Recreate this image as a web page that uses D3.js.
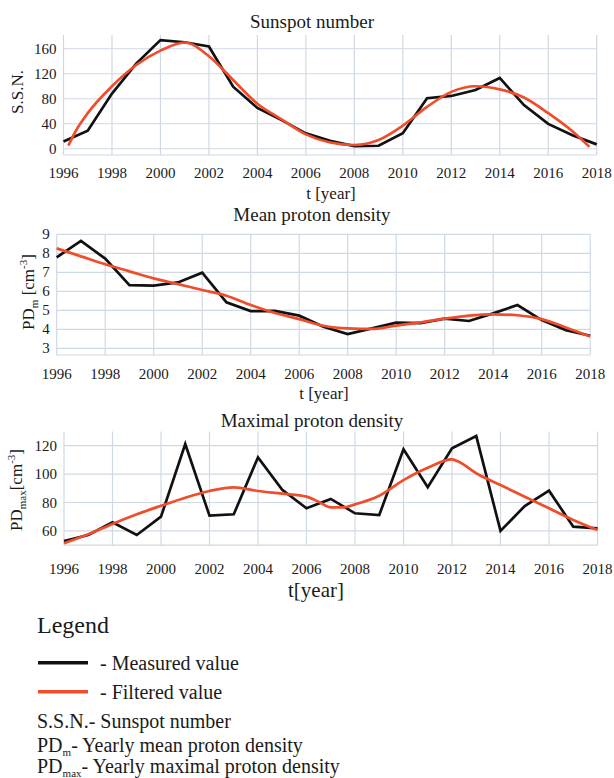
<!DOCTYPE html>
<html>
<head>
<meta charset="utf-8">
<script src="https://cdn.jsdelivr.net/npm/d3@7"></script>
<style>
  html, body { margin: 0; padding: 0; background: #fff; }
  svg { display: block; }
  svg text { font-family: "Liberation Serif", "DejaVu Serif", "Times New Roman", serif; fill: #1a1a1a; }
</style>
</head>
<body>
<svg id="chart" width="614" height="778" font-family="Liberation Serif, DejaVu Serif, serif"></svg>
<script>
// ---------------- data ----------------
const years = [1996, 1997, 1998, 1999, 2000, 2001, 2002, 2003, 2004, 2005, 2006, 2007,
               2008, 2009, 2010, 2011, 2012, 2013, 2014, 2015, 2016, 2017, 2018];
const xTicks = [1996, 1998, 2000, 2002, 2004, 2006, 2008, 2010, 2012, 2014, 2016, 2018];

// Sunspot number
const ssnMeasured = [11.6, 28.9, 88.3, 136.3, 173.9, 170.4, 163.6, 99.3, 65.3, 45.8, 24.7, 12.6,
                     4.2, 4.8, 24.9, 80.8, 84.5, 94.0, 113.3, 69.8, 39.8, 21.7, 7.0];
const ssnFilteredYears = [1996.2, 1996.5, 1997, 1998, 1999, 2000, 2001, 2002, 2003, 2004, 2005, 2006,
                          2007, 2008, 2009, 2010, 2011, 2012, 2013, 2014, 2015, 2016, 2017, 2017.7];
const ssnFiltered = [5, 28, 57, 100, 134, 157, 170, 148, 110, 72, 47, 23,
                     10, 6, 14, 37, 67, 91, 100, 95, 82, 57, 28, 3];
const ssnTicks = [0, 40, 80, 120, 160];

// Mean proton density
const pdmMeasured = [7.79, 8.65, 7.72, 6.33, 6.30, 6.47, 6.98, 5.42, 4.96, 4.97, 4.72, 4.14,
                     3.75, 4.05, 4.35, 4.33, 4.56, 4.44, 4.84, 5.28, 4.49, 3.96, 3.66];
const pdmFiltered = [8.26, 7.84, 7.42, 7.05, 6.68, 6.38, 6.07, 5.77, 5.28, 4.86, 4.54, 4.19,
                     4.05, 4.02, 4.20, 4.37, 4.56, 4.72, 4.79, 4.74, 4.54, 4.10, 3.62];
const pdmTicks = [3, 4, 5, 6, 7, 8, 9];

// Maximal proton density
const pdmaxMeasured = [52.9, 57.1, 66.0, 57.1, 70.0, 121.2, 70.7, 71.7, 111.8, 89.0, 75.9, 82.5,
                       72.4, 71.2, 117.5, 90.7, 118.2, 126.8, 60.0, 77.5, 88.3, 63.0, 61.8];
const pdmaxFilteredYears = [1996, 1997, 1998, 1999, 2000, 2001, 2002, 2003, 2004, 2005, 2006, 2006.5,
                            2007, 2007.5, 2008, 2009, 2010, 2011, 2012, 2012.3, 2013, 2014, 2015, 2016, 2017, 2018];
const pdmaxFiltered = [51.3, 57.6, 64.9, 71.7, 77.7, 83.4, 88.1, 90.7, 88.1, 86.2, 84.1, 80.5,
                       76.6, 76.5, 78.7, 84.8, 95.8, 104.5, 110.4, 108.5, 100.6, 92.3, 84.1, 75.9, 67.7, 60.6];
const pdmaxTicks = [60, 80, 100, 120];

// ---------------- drawing ----------------
const svg = d3.select("#chart");
const GRID = "#cfd9e4";
const BLACK = "#111111";
const RED = "#ef4d2c";

function panel(cfg) {
  const x = d3.scaleLinear().domain([1996, 2018]).range([cfg.x0, cfg.x1]);
  const y = d3.scaleLinear().domain(cfg.yDomain).range([cfg.yBottom, cfg.yTop]);
  const g = svg.append("g");

  // vertical grid
  g.append("g").selectAll("line").data(xTicks).join("line")
    .attr("x1", d => x(d)).attr("x2", d => x(d))
    .attr("y1", cfg.yTop).attr("y2", cfg.yBottom)
    .attr("stroke", GRID).attr("stroke-width", 1.2);
  // horizontal grid
  g.append("g").selectAll("line").data(cfg.yTicks).join("line")
    .attr("x1", cfg.x0).attr("x2", cfg.x1)
    .attr("y1", d => y(d)).attr("y2", d => y(d))
    .attr("stroke", GRID).attr("stroke-width", 1.2);
  g.append("line").attr("x1", cfg.x0).attr("x2", cfg.x1)
    .attr("y1", cfg.yBottom).attr("y2", cfg.yBottom)
    .attr("stroke", GRID).attr("stroke-width", 1.2);

  // x tick labels
  g.append("g").selectAll("text").data(xTicks).join("text")
    .attr("x", d => x(d)).attr("y", cfg.xLabelY)
    .attr("text-anchor", "middle").attr("font-size", 15)
    .text(d => d);
  // y tick labels
  g.append("g").selectAll("text").data(cfg.yTicks).join("text")
    .attr("x", cfg.x0 - 7).attr("y", d => y(d) + 5)
    .attr("text-anchor", "end").attr("font-size", 15)
    .text(d => d);

  // title
  g.append("text").attr("x", 312).attr("y", cfg.titleY)
    .attr("text-anchor", "middle").attr("font-size", 19).text(cfg.title);

  // x title
  g.append("text").attr("x", cfg.xTitleX).attr("y", cfg.xTitleY)
    .attr("text-anchor", "middle").attr("font-size", cfg.xTitleSize).text(cfg.xTitle);

  // y title
  const yt = g.append("text")
    .attr("transform", `translate(${cfg.yTitleX},${cfg.yTitleY}) rotate(-90)`)
    .attr("text-anchor", "middle").attr("font-size", 17);
  cfg.yTitleParts.forEach(p => {
    const t = yt.append("tspan").text(p.t);
    if (p.sub) t.attr("font-size", 11).attr("dy", 4);
    if (p.sup) t.attr("font-size", 11).attr("dy", -7);
    if (p.back) t.attr("dy", p.back);
  });

  // lines
  const line = d3.line().x(d => x(d[0])).y(d => y(d[1]));
  g.append("path")
    .datum(d3.zip(years, cfg.measured))
    .attr("d", line.curve(d3.curveLinear))
    .attr("fill", "none").attr("stroke", BLACK).attr("stroke-width", 2.7)
    .attr("stroke-linejoin", "miter");
  g.append("path")
    .datum(d3.zip(cfg.filteredYears, cfg.filtered))
    .attr("d", d3.line().x(d => x(d[0])).y(d => y(d[1])).curve(d3.curveMonotoneX))
    .attr("fill", "none").attr("stroke", RED).attr("stroke-width", 2.7);
}

panel({
  x0: 63.5, x1: 596.7, yDomain: [-10, 182], yBottom: 155, yTop: 35,
  yTicks: ssnTicks, measured: ssnMeasured,
  filteredYears: ssnFilteredYears, filtered: ssnFiltered,
  title: "Sunspot number", titleY: 28,
  xLabelY: 178, xTitle: "t [year]", xTitleX: 331, xTitleY: 199, xTitleSize: 17,
  yTitleX: 23, yTitleY: 92, yTitleParts: [{t: "S.S.N."}]
});

panel({
  x0: 56.7, x1: 590.2, yDomain: [2.65, 9], yBottom: 355, yTop: 234.3,
  yTicks: pdmTicks, measured: pdmMeasured,
  filteredYears: years, filtered: pdmFiltered,
  title: "Mean proton density", titleY: 221,
  xLabelY: 378.5, xTitle: "t [year]", xTitleX: 324, xTitleY: 399, xTitleSize: 17,
  yTitleX: 34, yTitleY: 292,
  yTitleParts: [{t: "PD"}, {t: "m", sub: true}, {t: " [cm", back: -4}, {t: "-3", sup: true}, {t: "]", back: 7}]
});

panel({
  x0: 64, x1: 597.5, yDomain: [50, 130], yBottom: 545.1, yTop: 431.5,
  yTicks: pdmaxTicks, measured: pdmaxMeasured,
  filteredYears: pdmaxFilteredYears, filtered: pdmaxFiltered,
  title: "Maximal proton density", titleY: 427,
  xLabelY: 574, xTitle: "t[year]", xTitleX: 316, xTitleY: 597, xTitleSize: 21,
  yTitleX: 22, yTitleY: 490,
  yTitleParts: [{t: "PD"}, {t: "max", sub: true}, {t: "[cm", back: -4}, {t: "-3", sup: true}, {t: "]", back: 7}]
});

// ---------------- legend ----------------
const leg = svg.append("g");
leg.append("text").attr("x", 37).attr("y", 633).attr("font-size", 24).text("Legend");
const legendItems = [
  {label: "- Measured value", color: BLACK, ly: 662.7, ty: 670},
  {label: "- Filtered value", color: RED, ly: 691.7, ty: 699}
];
legendItems.forEach(it => {
  leg.append("line").attr("x1", 38).attr("x2", 88).attr("y1", it.ly).attr("y2", it.ly)
    .attr("stroke", it.color).attr("stroke-width", 3.5);
  leg.append("text").attr("x", 100).attr("y", it.ty).attr("font-size", 20).text(it.label);
});
const defs = [
  {y: 728, parts: [{t: "S.S.N.- Sunspot number"}]},
  {y: 751.5, parts: [{t: "PD"}, {t: "m", sub: true}, {t: "- Yearly mean proton density", back: -4}]},
  {y: 773, parts: [{t: "PD"}, {t: "max", sub: true}, {t: "- Yearly maximal proton density", back: -4}]}
];
defs.forEach(d => {
  const t = leg.append("text").attr("x", 37).attr("y", d.y).attr("font-size", 20);
  d.parts.forEach(p => {
    const s = t.append("tspan").text(p.t);
    if (p.sub) s.attr("font-size", 11).attr("dy", 4);
    if (p.back) s.attr("dy", p.back);
  });
});
</script>
</body>
</html>
